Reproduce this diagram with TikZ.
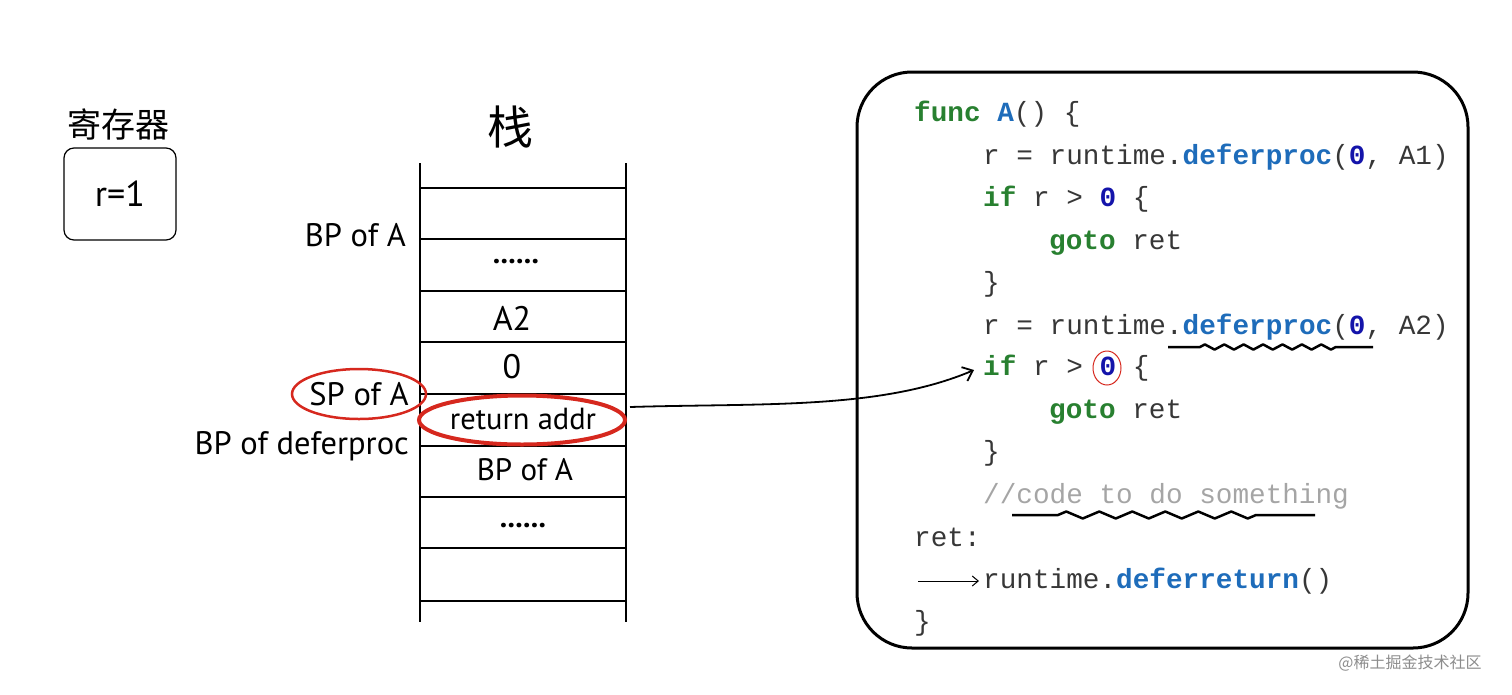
\documentclass[tikz,border=0pt]{standalone}
\usepackage{fontspec}
\setmainfont{PT Sans}
\setmonofont{Liberation Mono}
\newfontfamily\cjk{Noto Sans CJK SC}
\usetikzlibrary{arrows.meta,decorations.pathmorphing,shapes.geometric}
\definecolor{kwgreen}{RGB}{40,128,48}
\definecolor{kwblue}{RGB}{30,108,186}
\definecolor{numblue}{RGB}{20,20,170}
\definecolor{cmtgray}{RGB}{165,165,165}
\definecolor{codetxt}{RGB}{55,55,55}
\definecolor{hlred}{RGB}{214,40,30}
\newcommand{\kw}[1]{\textcolor{kwgreen}{\textbf{#1}}}
\newcommand{\fn}[1]{\textcolor{kwblue}{\textbf{#1}}}
\newcommand{\nm}[1]{\textcolor{numblue}{\textbf{#1}}}
\begin{document}
\begin{tikzpicture}[x=1pt,y=-1pt,
  code/.style={anchor=base west,inner sep=0pt,text=codetxt,font=\fontsize{27.7}{30}\selectfont\ttfamily},
  hand/.style={inner sep=0pt,font=\fontsize{32.5}{36}\selectfont},
  cell/.style={inner sep=0pt,font=\fontsize{30}{34}\selectfont},
  stackline/.style={line width=1.5pt},
  redring/.style={draw=hlred,ellipse,inner sep=0pt},
  wavy/.style={line width=2.5pt,line join=round}
]
\useasboundingbox (0,0) rectangle (1512,694);

% register
\node[inner sep=0pt,font=\cjk\fontsize{34}{38}\selectfont] (regtitle) at (118,124) {寄存器};
\node[draw,rounded corners=10pt,line width=1.2pt,minimum width=112pt,minimum height=92pt,
      font=\fontsize{36}{40}\selectfont] (reg) at (120,194) {r=1};

% stack title
\node[inner sep=0pt,font=\cjk\fontsize{46}{50}\selectfont] (stacktitle) at (510,127) {栈};

% stack frame
\coordinate (sl1) at (420,163); \coordinate (sl2) at (420,622);
\coordinate (sr1) at (626,163); \coordinate (sr2) at (626,622);
\draw[stackline] (sl1) -- (sl2);
\draw[stackline] (sr1) -- (sr2);
\foreach \yy in {188,239,291,342,394,446,497,548,601}{
  \draw[line width=1.3pt] (420,\yy) -- (626,\yy);
}

% stack cells
\node[cell,font=\bfseries\fontsize{30}{34}\selectfont] (c1) at (516,262) {......};
\node[cell,font=\fontsize{34}{38}\selectfont] (c2) at (512,318) {A2};
\node[cell,font=\fontsize{34}{38}\selectfont] (c3) at (512,367) {0};
\node[cell,font=\fontsize{30.5}{34}\selectfont] (c4) at (523,419) {return addr};
\node[cell,font=\fontsize{31}{34}\selectfont] (c5) at (525,470) {BP of A};
\node[cell,font=\bfseries\fontsize{30}{34}\selectfont] (c6) at (523,526) {......};

% left labels
\node[hand,anchor=east] (bpa) at (406,235) {BP of A};
\node[hand] (spa) at (359,394) {SP of A};
\node[hand,anchor=east] (bpd) at (409,446) {BP of deferproc};

% red rings
\node[redring,line width=2.5pt,minimum width=134pt,minimum height=50pt] (spring) at (359,394) {};
\node[redring,line width=4pt,minimum width=206pt,minimum height=49pt] (raring) at (522,420) {};

% code box
\node[draw,line width=3pt,rounded corners=55pt,minimum width=611pt,minimum height=576pt] (codebox) at (1162.5,360) {};

% code lines
\node[code] (L1) at (914,121) {\kw{func} \fn{A}() \{};
\node[code] (L2) at (983,164) {r = runtime.\fn{deferproc}(\nm{0}, A1)};
\node[code] (L3) at (983,206) {\kw{if} r > \nm{0} \{};
\node[code] (L4) at (1049,249) {\kw{goto} ret};
\node[code] (L5) at (983,291) {\}};
\node[code] (L6) at (983,334) {r = runtime.\fn{deferproc}(\nm{0}, A2)};
\node[code] (L7) at (983,375) {\kw{if} r > \nm{0} \{};
\node[code] (L8) at (1049,418) {\kw{goto} ret};
\node[code] (L9) at (983,460) {\}};
\node[code,text=cmtgray] (L10) at (983,503) {//code to do something};
\node[code] (L11) at (914,546) {ret:};
\node[code] (L12) at (983,588) {runtime.\fn{deferreturn}()};
\node[code] (L13) at (914,630) {\}};

% small red ring around 0
\node[redring,line width=1pt,minimum width=28pt,minimum height=34pt] (zring) at (1107,368) {};

% wavy underlines
\coordinate (u1a) at (1168,347); \coordinate (u1b) at (1200,347);
\coordinate (u1c) at (1336,347); \coordinate (u1d) at (1373,347);
\draw[wavy,decoration={zigzag,segment length=19.4pt,amplitude=2.6pt}] (u1a) -- (u1b) decorate {-- (u1c)} -- (u1d);
\coordinate (u2a) at (1012,515); \coordinate (u2b) at (1058,515);
\coordinate (u2c) at (1256,515); \coordinate (u2d) at (1315,515);
\draw[wavy,decoration={zigzag,segment length=33pt,amplitude=3.5pt}] (u2a) -- (u2b) decorate {-- (u2c)} -- (u2d);

% small arrow before runtime.deferreturn
\coordinate (da) at (918,581); \coordinate (db) at (979,581);
\draw[line width=1pt,-{Straight Barb[length=6pt,width=10pt]}] (da) -- (db);

% main arrow
\coordinate (src) at (630,407);
\coordinate (tgt) at (974,370);
\draw[line width=1.8pt,-{Straight Barb[length=9pt,width=15pt]}] (src)
   .. controls (760,403) and (880,410) .. (tgt);

% watermark
\node[inner sep=0pt,text=black!45,font=\cjk\fontsize{16}{18}\selectfont] (wm) at (1410,663) {@稀土掘金技术社区};
\end{tikzpicture}
\end{document}
